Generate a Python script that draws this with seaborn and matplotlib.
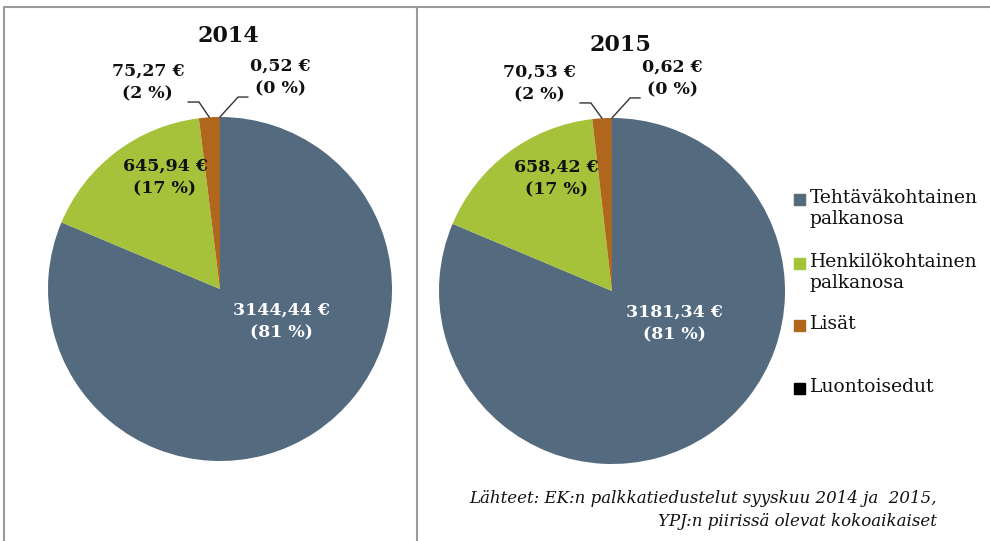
import numpy as np
import matplotlib.pyplot as plt
import seaborn as sns
from matplotlib.lines import Line2D
from matplotlib.patches import Rectangle

# Data
categories = ["Tehtäväkohtainen\npalkanosa", "Henkilökohtainen\npalkanosa", "Lisät", "Luontoisedut"]
years = ["2014", "2015"]
values_2014 = [3144.44, 645.94, 75.27, 0.52]
values_2015 = [3181.34, 658.42, 70.53, 0.62]
colors = ["#546a7f", "#a5c23a", "#b0661d", "#000000"]
source_text = "Lähteet: EK:n palkkatiedustelut syyskuu 2014 ja  2015,\nYPJ:n piirissä olevat kokoaikaiset"

sns.set_theme(style="white")
plt.rcParams['font.family'] = ['DejaVu Serif']

W, H = 990, 541
fig = plt.figure(figsize=(W / 100, H / 100), dpi=100)


def fmt_eur(v):
    return f"{v:.2f}".replace(".", ",") + " €"


def draw_pie(center, radius, values, year, title_y):
    cx, cy, r = center[0], center[1], radius
    ax = fig.add_axes([(cx - r) / W, (H - cy - r) / H, 2 * r / W, 2 * r / H])
    wedges, _ = ax.pie(values, colors=colors, startangle=90, counterclock=False,
                       radius=1.0, wedgeprops=dict(linewidth=0))
    ax.set_xlim(-1, 1)
    ax.set_ylim(-1, 1)
    ax.set_aspect("equal")
    ax.axis("off")
    total = sum(values)
    pct = [round(v / total * 100) for v in values]

    ax.text(0.05, title_y, year, ha="center", va="center", fontsize=16,
            fontweight="bold", color="#111111", clip_on=False)

    # main slices: labels inside
    ax.text(0.36, -0.19, f"{fmt_eur(values[0])}\n({pct[0]} %)", ha="center", va="center",
            fontsize=12.5, fontweight="bold", color="white", linespacing=1.45)
    ax.text(-0.32, 0.65, f"{fmt_eur(values[1])}\n({pct[1]} %)", ha="center", va="center",
            fontsize=12.5, fontweight="bold", color="#111111", linespacing=1.45)

    # small slices: labels outside with leader lines
    small = [(2, -0.42, 1.20, -0.122, 1.087, -0.186), (3, 0.35, 1.23, 0.105, 1.116, 0.163)]
    for i, tx, ty, lx, ly, hx in small:
        w = wedges[i]
        ang = np.deg2rad((w.theta1 + w.theta2) / 2)
        ex, ey = np.cos(ang), np.sin(ang)
        ax.text(tx, ty, f"{fmt_eur(values[i])}\n({pct[i]} %)", ha="center", va="center",
                fontsize=12.5, fontweight="bold", color="#111111", clip_on=False,
                linespacing=1.45)
        ax.plot([hx, lx, ex], [ly, ly, ey], color="#333333", lw=1.0, clip_on=False)
    return wedges


wedges = draw_pie((220, 289), 172, values_2014, years[0], 1.47)
draw_pie((612, 291), 173, values_2015, years[1], 1.42)

# frame lines
line_c = "#9a9a9a"
fig.add_artist(Line2D([4 / W, 1], [1 - 7 / H, 1 - 7 / H], color=line_c, lw=1.5))
fig.add_artist(Line2D([4 / W, 4 / W], [0, 1 - 7 / H], color=line_c, lw=1.5))
fig.add_artist(Line2D([417 / W, 417 / W], [0, 1 - 7 / H], color=line_c, lw=1.5))

# legend, one slot per entry with the marker at the first line
legend_y = [200, 264, 326, 389]
for lab, col, y in zip(categories, colors, legend_y):
    fig.add_artist(Rectangle((794 / W, 1 - (y + 5) / H), 11 / W, 11 / H, color=col,
                             transform=fig.transFigure))
    fig.text(810 / W, 1 - (y - 11) / H, lab, ha="left", va="top", fontsize=13.5,
             color="#111111", linespacing=1.2)

fig.text(937 / W, 1 - 510 / H, source_text, ha="right", va="center", fontsize=12,
         style="italic", linespacing=1.45, color="#111111")

fig.savefig("out.png", dpi=100)
